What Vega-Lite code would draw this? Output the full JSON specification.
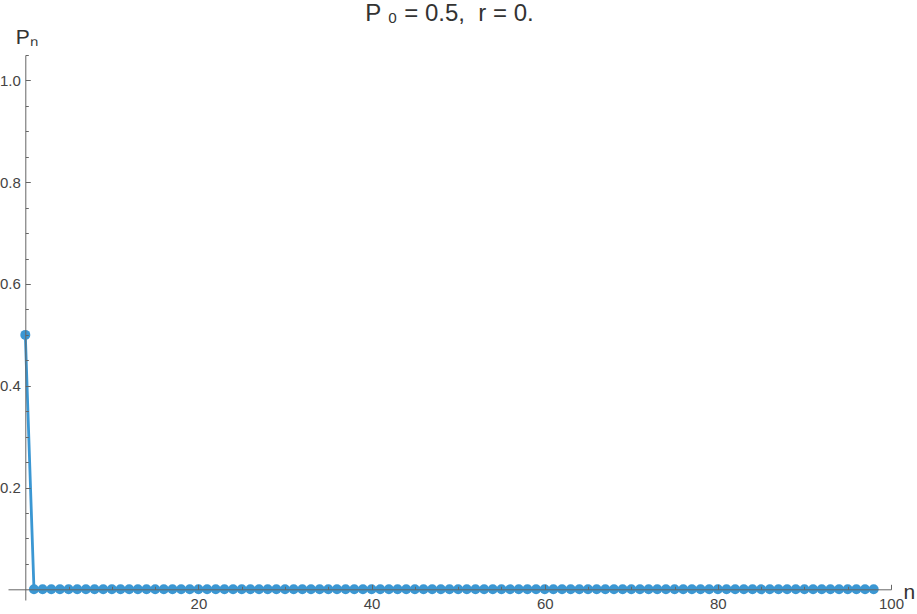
{
  "$schema": "https://vega.github.io/schema/vega-lite/v6.json",
  "width": 883,
  "height": 545,
  "autosize": {"type": "none"},
  "padding": {"left": 8, "top": 55, "right": 26, "bottom": 14},
  "title": {
    "text": "P ₀ = 0.5,\u00a0 r = 0.",
    "font": "Liberation Sans",
    "fontSize": 24,
    "fontWeight": "normal",
    "color": "#333333",
    "frame": "group",
    "anchor": "middle",
    "baseline": "alphabetic",
    "offset": -19
  },
  "data": {
    "values": [
      {"n": 0, "P": 0.5}, {"n": 1, "P": 0}, {"n": 2, "P": 0}, {"n": 3, "P": 0}, {"n": 4, "P": 0},
      {"n": 5, "P": 0}, {"n": 6, "P": 0}, {"n": 7, "P": 0}, {"n": 8, "P": 0}, {"n": 9, "P": 0},
      {"n": 10, "P": 0}, {"n": 11, "P": 0}, {"n": 12, "P": 0}, {"n": 13, "P": 0}, {"n": 14, "P": 0},
      {"n": 15, "P": 0}, {"n": 16, "P": 0}, {"n": 17, "P": 0}, {"n": 18, "P": 0}, {"n": 19, "P": 0},
      {"n": 20, "P": 0}, {"n": 21, "P": 0}, {"n": 22, "P": 0}, {"n": 23, "P": 0}, {"n": 24, "P": 0},
      {"n": 25, "P": 0}, {"n": 26, "P": 0}, {"n": 27, "P": 0}, {"n": 28, "P": 0}, {"n": 29, "P": 0},
      {"n": 30, "P": 0}, {"n": 31, "P": 0}, {"n": 32, "P": 0}, {"n": 33, "P": 0}, {"n": 34, "P": 0},
      {"n": 35, "P": 0}, {"n": 36, "P": 0}, {"n": 37, "P": 0}, {"n": 38, "P": 0}, {"n": 39, "P": 0},
      {"n": 40, "P": 0}, {"n": 41, "P": 0}, {"n": 42, "P": 0}, {"n": 43, "P": 0}, {"n": 44, "P": 0},
      {"n": 45, "P": 0}, {"n": 46, "P": 0}, {"n": 47, "P": 0}, {"n": 48, "P": 0}, {"n": 49, "P": 0},
      {"n": 50, "P": 0}, {"n": 51, "P": 0}, {"n": 52, "P": 0}, {"n": 53, "P": 0}, {"n": 54, "P": 0},
      {"n": 55, "P": 0}, {"n": 56, "P": 0}, {"n": 57, "P": 0}, {"n": 58, "P": 0}, {"n": 59, "P": 0},
      {"n": 60, "P": 0}, {"n": 61, "P": 0}, {"n": 62, "P": 0}, {"n": 63, "P": 0}, {"n": 64, "P": 0},
      {"n": 65, "P": 0}, {"n": 66, "P": 0}, {"n": 67, "P": 0}, {"n": 68, "P": 0}, {"n": 69, "P": 0},
      {"n": 70, "P": 0}, {"n": 71, "P": 0}, {"n": 72, "P": 0}, {"n": 73, "P": 0}, {"n": 74, "P": 0},
      {"n": 75, "P": 0}, {"n": 76, "P": 0}, {"n": 77, "P": 0}, {"n": 78, "P": 0}, {"n": 79, "P": 0},
      {"n": 80, "P": 0}, {"n": 81, "P": 0}, {"n": 82, "P": 0}, {"n": 83, "P": 0}, {"n": 84, "P": 0},
      {"n": 85, "P": 0}, {"n": 86, "P": 0}, {"n": 87, "P": 0}, {"n": 88, "P": 0}, {"n": 89, "P": 0},
      {"n": 90, "P": 0}, {"n": 91, "P": 0}, {"n": 92, "P": 0}, {"n": 93, "P": 0}, {"n": 94, "P": 0},
      {"n": 95, "P": 0}, {"n": 96, "P": 0}, {"n": 97, "P": 0}, {"n": 98, "P": 0}
    ]
  },
  "encoding": {
    "x": {
      "field": "n",
      "type": "quantitative",
      "scale": {"domain": [-2, 100], "nice": false, "zero": false},
      "axis": {
        "title": "n",
        "values": [5, 10, 15, 20, 25, 30, 35, 40, 45, 50, 55, 60, 65, 70, 75, 80, 85, 90, 95, 100],
        "labelExpr": "datum.value % 20 == 0 ? datum.label : ''",
        "format": "d",
        "offset": -10.7,
        "zindex": 1,
        "grid": false,
        "domainColor": "#666666",
        "tickColor": "#666666",
        "tickSize": {"condition": {"test": "datum.value % 20 == 0", "value": -5}, "value": -3},
        "labelPadding": 12,
        "labelFont": "Liberation Sans",
        "labelFontSize": 15,
        "labelColor": "#444444",
        "labelFlush": false,
        "labelOverlap": false,
        "titleFont": "Liberation Sans",
        "titleFontSize": 21,
        "titleFontWeight": "normal",
        "titleColor": "#333333",
        "titleAngle": 0,
        "titleAlign": "left",
        "titleBaseline": "alphabetic",
        "titleX": 895,
        "titleY": 9
      }
    },
    "y": {
      "field": "P",
      "type": "quantitative",
      "scale": {"domain": [-0.021, 1.05], "nice": false, "zero": false},
      "axis": {
        "title": "Pₙ",
        "values": [0.05, 0.1, 0.15, 0.2, 0.25, 0.3, 0.35, 0.4, 0.45, 0.5, 0.55, 0.6, 0.65, 0.7, 0.75, 0.8, 0.85, 0.9, 0.95, 1.0, 1.05],
        "labelExpr": "abs(datum.value * 5 - round(datum.value * 5)) < 1e-6 ? format(datum.value, '.1f') : ''",
        "offset": -17.3,
        "zindex": 1,
        "grid": false,
        "domainColor": "#666666",
        "tickColor": "#666666",
        "tickSize": {"condition": {"test": "abs(datum.value * 5 - round(datum.value * 5)) < 1e-6", "value": -5}, "value": -3},
        "labelPadding": 10,
        "labelFont": "Liberation Sans",
        "labelFontSize": 15,
        "labelColor": "#444444",
        "labelOverlap": false,
        "titleFont": "Liberation Sans",
        "titleFontSize": 21,
        "titleFontWeight": "normal",
        "titleColor": "#333333",
        "titleAngle": 0,
        "titleAlign": "left",
        "titleBaseline": "alphabetic",
        "titleX": -10,
        "titleY": -12
      }
    }
  },
  "layer": [
    {"mark": {"type": "line", "color": "#3b97d3", "strokeWidth": 2.8}},
    {"mark": {"type": "circle", "color": "#3b97d3", "size": 100, "opacity": 1}}
  ],
  "config": {"view": {"stroke": null}}
}
